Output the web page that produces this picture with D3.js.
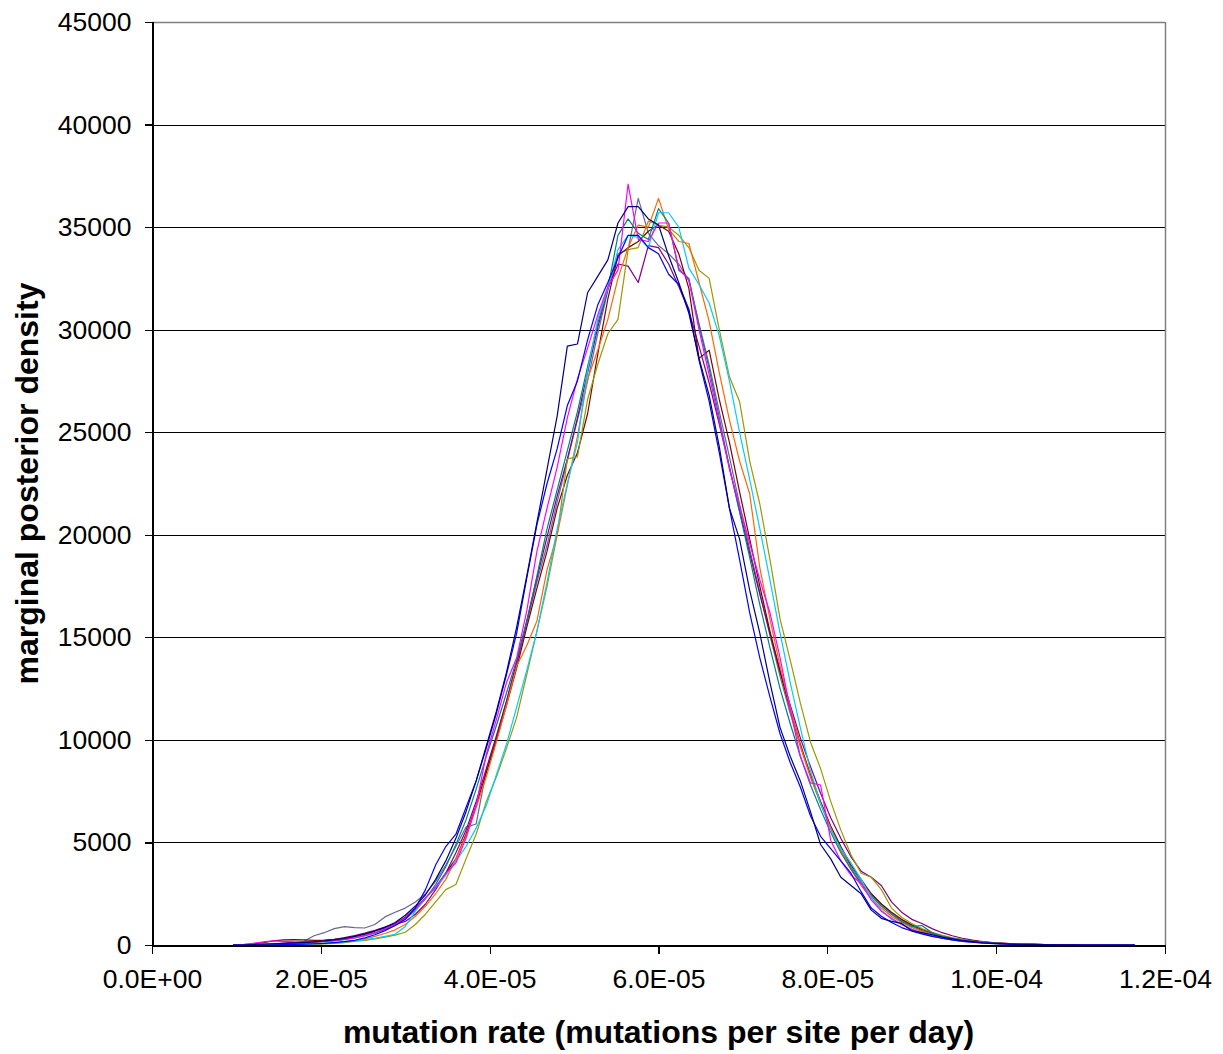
<!DOCTYPE html>
<html>
<head>
<meta charset="utf-8">
<script src="https://cdn.jsdelivr.net/npm/d3@7"></script>
<style>
  body { margin: 0; background: #fff; }
  svg { display: block; font-family: "Liberation Sans", Arial, sans-serif; }
  .axis path, .axis line { shape-rendering: crispEdges; }
</style>
</head>
<body>
<svg id="chart" width="1223" height="1054"></svg>
<script>
// --- Data: marginal posterior density per run, histogram bins of 1.2E-6 starting at 9.6E-6 ---

const binStart = 9.6e-6;
const binWidth = 1.2e-6;

const navy = [
  0, 0, 20, 40, 60, 80, 100, 120, 150, 200,
  250, 320, 420, 530, 680, 860, 1100, 1450, 1900, 2450,
  3200, 4100, 5200, 6500, 8000, 9700, 11400, 13300, 15500, 18000,
  20600, 23200, 25800, 29200, 29300, 31800, 32600, 33400, 35200, 36000,
  36000, 35400, 35100, 33600, 32300, 30800, 28600, 26800, 24300, 21300,
  19800, 17300, 15200, 12800, 10600, 9200, 8000, 6500, 4900, 4200,
  3300, 2900, 2500, 1700, 1300, 1150, 1050, 700, 600, 500,
  380, 300, 220, 160, 110, 80, 60, 40, 30, 20,
  15, 10, 5, 5, 0, 0, 0, 0, 0, 0
];

const blue = [
  0, 0, 0, 0, 10, 20, 30, 40, 60, 80,
  120, 160, 230, 350, 500, 700, 950, 1250, 1800, 2700,
  3900, 4800, 5400, 6700, 8000, 9600, 11300, 13200, 15200, 17900,
  20500, 22500, 24200, 26300, 27500, 29500, 31200, 32300, 33500, 34600,
  34600, 34000, 33700, 32700, 32200, 31000, 28500, 26500, 24000, 21300,
  18800, 16200, 14000, 12100, 10300, 8900, 7700, 6300, 5300, 4700,
  4100, 3500, 2600, 1800, 1400, 1100, 850, 680, 540, 420,
  330, 250, 190, 140, 100, 75, 50, 35, 25, 15,
  10, 5, 0, 0, 0, 0, 0, 0, 0, 0
];

const magenta = [
  0, 20, 80, 150, 200, 180, 150, 130, 150, 180,
  220, 280, 350, 450, 600, 800, 1000, 1320, 1750, 2300,
  2850, 3500, 4000, 5200, 6800, 9300, 11000, 12800, 14000, 16300,
  19200, 21300, 23300, 25700, 27600, 29100, 30700, 32100, 32900, 37100,
  34400, 34300, 35200, 35200, 33000, 32400, 30000, 27800, 25500, 23200,
  21400, 19600, 17800, 16200, 14000, 11500, 9200, 7900, 7800, 5100,
  4100, 3400, 3000, 2200, 1650, 1300, 1000, 760, 560, 430,
  330, 250, 180, 140, 100, 80, 60, 40, 30, 20,
  15, 10, 5, 5, 0, 0, 0, 0, 0, 0
];

const cyan = [
  0, 0, 0, 0, 0, 10, 20, 30, 50, 80,
  110, 150, 200, 260, 330, 420, 520, 900, 1650, 2300,
  2800, 3400, 4100, 4800, 5700, 6800, 8300, 9800, 11600, 13400,
  15300, 17700, 20300, 22500, 24500, 28000, 30500, 32000, 33900, 34600,
  34500, 34000, 35700, 35700, 35000, 33000, 32200, 31300, 29700, 27500,
  25000, 22700, 20300, 17800, 15200, 12800, 10600, 8500, 6900, 5600,
  4700, 4000, 3200, 2300, 1700, 1250, 1000, 780, 600, 450,
  330, 250, 180, 130, 100, 70, 50, 40, 30, 20,
  10, 5, 0, 0, 0, 0, 0, 0, 0, 0
];

const teal = [
  0, 0, 0, 20, 40, 60, 80, 100, 130, 160,
  200, 260, 350, 460, 580, 760, 950, 1250, 1700, 2250,
  2950, 3800, 4900, 6100, 7600, 9200, 10700, 12300, 13900, 15800,
  18000, 20300, 22200, 24100, 26000, 28200, 30300, 32000, 34600, 35400,
  34700, 34400, 35900, 35200, 32900, 32500, 30200, 28100, 25700, 23300,
  21100, 18900, 16600, 14500, 12500, 10800, 9200, 7800, 6600, 5500,
  4500, 3700, 3000, 2400, 1900, 1500, 1150, 900, 950, 600,
  420, 320, 240, 180, 130, 100, 70, 50, 35, 25,
  15, 10, 5, 0, 0, 0, 0, 0, 0, 0
];

const orange = [
  0, 0, 0, 0, 10, 20, 30, 50, 60, 80,
  110, 160, 220, 300, 420, 560, 740, 1000, 1400, 1900,
  2500, 3200, 4200, 5300, 6700, 8200, 9900, 11700, 13600, 14600,
  15800, 18300, 20000, 22400, 24800, 27600, 29000, 30500, 32500, 34000,
  35100, 35000, 36400, 34900, 34300, 34200, 32300, 30400, 27900, 25600,
  23600, 22000, 18400, 15900, 13600, 11600, 9700, 8200, 6900, 5700,
  4600, 3700, 2900, 2300, 1800, 1400, 1100, 850, 650, 480,
  360, 260, 190, 140, 100, 70, 50, 40, 30, 20,
  15, 10, 5, 5, 0, 0, 0, 0, 0, 0
];

const olive = [
  0, 0, 0, 0, 0, 0, 10, 20, 30, 50,
  80, 120, 170, 230, 300, 380, 480, 620, 1000, 1500,
  2100, 2700, 2950, 4200, 5400, 7000, 8200, 9600, 11100, 13200,
  15300, 17500, 20000, 23700, 23800, 26600, 28300, 29800, 30500, 33900,
  34000, 35300, 35100, 35000, 34600, 34000, 32900, 32500, 30000, 27700,
  26500, 23600, 21500, 18800, 15900, 13900, 11800, 9900, 8600, 7000,
  5600, 4400, 3500, 3300, 2700, 1800, 1350, 1050, 800, 620,
  470, 350, 260, 190, 140, 100, 70, 50, 35, 25,
  15, 10, 5, 0, 0, 0, 0, 0, 0, 0
];

const darkRed = [
  0, 20, 60, 120, 200, 250, 260, 250, 230, 240,
  270, 330, 420, 540, 680, 850, 1050, 1350, 1800, 2300,
  2800, 3500, 4200, 5400, 6800, 8400, 10000, 11700, 13500, 15500,
  17400, 19200, 21300, 22900, 24000, 25900, 28800, 31500, 33600, 34000,
  34300, 34800, 35100, 34800, 33700, 32000, 28600, 29000, 26600, 24500,
  22100, 19800, 17500, 15300, 13300, 11500, 9800, 8300, 7000, 5800,
  4800, 3900, 3200, 2500, 2000, 1600, 1250, 980, 760, 590,
  450, 340, 260, 200, 150, 110, 80, 60, 45, 35,
  25, 20, 15, 10, 10, 5, 0, 0, 0, 0
];

const purple = [
  0, 0, 10, 30, 60, 90, 120, 150, 180, 220,
  280, 360, 460, 580, 720, 880, 1000, 1150, 1500, 2000,
  2700, 3500, 4500, 5600, 7000, 8600, 10200, 11900, 13800, 15800,
  17900, 19900, 21900, 23700, 25700, 27900, 30100, 32000, 33200, 33100,
  32300, 34100, 34000, 33200, 32100, 30900, 29200, 27400, 25400, 23300,
  21200, 19100, 17100, 15200, 13400, 11700, 10100, 8700, 7400, 6200,
  5200, 4300, 3600, 3300, 2900, 2100, 1600, 1250, 1050, 800,
  600, 450, 330, 240, 170, 120, 90, 60, 45, 30,
  20, 15, 10, 5, 5, 0, 0, 0, 0, 0
];

const slate = [
  0, 0, 0, 10, 30, 60, 100, 180, 450, 600,
  800, 900, 850, 830, 1000, 1370, 1600, 1800, 2100, 2500,
  3100, 3900, 4800, 5750, 5900, 8500, 10100, 11900, 13700, 15700,
  17700, 19500, 21600, 23600, 25600, 27500, 29800, 31900, 33700, 33900,
  36400, 34700, 34100, 33700, 33200, 32400, 30300, 28300, 26000, 23800,
  21500, 19300, 17200, 15100, 13100, 11300, 9700, 8200, 6900, 5700,
  4700, 3800, 3100, 2500, 2000, 1550, 1200, 920, 700, 530,
  400, 300, 220, 160, 120, 90, 70, 50, 40, 60,
  30, 20, 10, 5, 0, 0, 0, 0, 0, 0
];

const xTicks = [0, 2e-5, 4e-5, 6e-5, 8e-5, 1e-4, 1.2e-4];
const yTicks = [0, 5000, 10000, 15000, 20000, 25000, 30000, 35000, 40000, 45000];

const runs = [
  { values: slate, color: '#666699' },
  { values: purple, color: '#800080' },
  { values: darkRed, color: '#800000' },
  { values: olive, color: '#999900' },
  { values: orange, color: '#ff6600' },
  { values: teal, color: '#008080' },
  { values: cyan, color: '#00ccff' },
  { values: magenta, color: '#ff00ff' },
  { values: blue, color: '#0000ff' },
  { values: navy, color: '#000080' }
];

// --- Layout ---

const plotLeft = 152, plotRight = 1165, plotTop = 22, plotBottom = 945;

const svg = d3.select('#chart');

const x = d3.scaleLinear().domain([0, 1.2e-4]).range([plotLeft, plotRight]);
const y = d3.scaleLinear().domain([0, 45000]).range([plotBottom, plotTop]);

function sciLabel(v) {
  // 2e-5 -> "2.0E-05"
  const [m, e] = v.toExponential(1).split('e');
  const n = parseInt(e, 10);
  return m + 'E' + (n < 0 ? '-' : '+') + String(Math.abs(n)).padStart(2, '0');
}

// --- Gridlines + frame ---

svg.append('g')
  .selectAll('line')
  .data(yTicks.filter(v => v > 0 && v < 45000))
  .join('line')
  .attr('x1', plotLeft).attr('x2', plotRight)
  .attr('y1', d => Math.round(y(d)) + 0.5).attr('y2', d => Math.round(y(d)) + 0.5)
  .attr('stroke', '#000').attr('stroke-width', 1);

svg.append('line')
  .attr('x1', plotLeft).attr('x2', plotRight)
  .attr('y1', plotTop + 0.5).attr('y2', plotTop + 0.5)
  .attr('stroke', '#808080').attr('stroke-width', 1.5);

svg.append('line')
  .attr('x1', plotRight + 0.5).attr('x2', plotRight + 0.5)
  .attr('y1', plotTop).attr('y2', plotBottom)
  .attr('stroke', '#808080').attr('stroke-width', 1.5);

// --- Series ---

const line = d3.line()
  .x((d, i) => x(binStart + i * binWidth))
  .y(d => y(d));

svg.append('g')
  .selectAll('path')
  .data(runs)
  .join('path')
  .attr('d', d => line(d.values))
  .attr('fill', 'none')
  .attr('stroke', d => d.color)
  .attr('stroke-width', 1.2)
  .attr('stroke-linejoin', 'round');

// --- Axes ---

const yAxis = svg.append('g')
  .attr('class', 'axis')
  .attr('transform', `translate(${plotLeft + 0.5},0)`)
  .call(d3.axisLeft(y).tickValues(yTicks).tickFormat(d3.format('d')).tickSize(8).tickPadding(13));

const xAxis = svg.append('g')
  .attr('class', 'axis')
  .attr('transform', `translate(0,${plotBottom + 0.5})`)
  .call(d3.axisBottom(x).tickValues(xTicks).tickFormat(sciLabel).tickSize(8).tickPadding(16));

for (const g of [xAxis, yAxis]) {
  g.select('.domain').attr('stroke', '#000').attr('stroke-width', 1.2);
  g.selectAll('.tick line').attr('stroke', '#000').attr('stroke-width', 1.2);
  g.selectAll('.tick text')
    .attr('fill', '#000')
    .style('font-size', '26.5px')
    .style('font-family', '"Liberation Sans", Arial, sans-serif');
}

// --- Titles ---

svg.append('text')
  .attr('x', (plotLeft + plotRight) / 2)
  .attr('y', 1043)
  .attr('text-anchor', 'middle')
  .style('font-size', '32px')
  .style('font-weight', 'bold')
  .text('mutation rate (mutations per site per day)');

svg.append('text')
  .attr('transform', `translate(38,${(plotTop + plotBottom) / 2}) rotate(-90)`)
  .attr('text-anchor', 'middle')
  .style('font-size', '32px')
  .style('font-weight', 'bold')
  .text('marginal posterior density');
</script>
</body>
</html>
